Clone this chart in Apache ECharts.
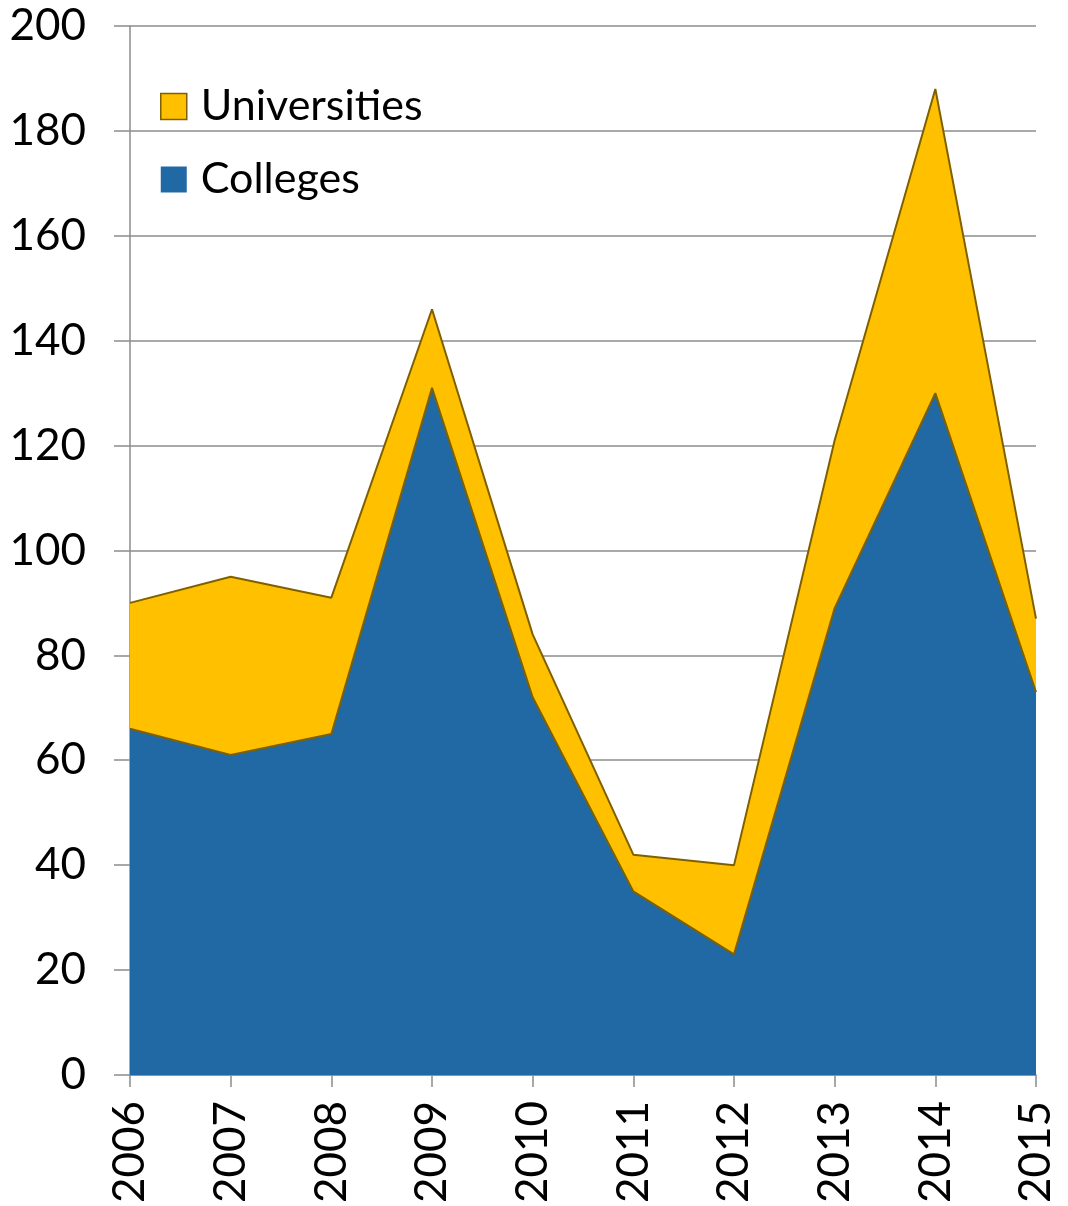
<!DOCTYPE html>
<html>
<head>
<meta charset="utf-8">
<script src="https://cdn.jsdelivr.net/npm/echarts@6/dist/echarts.min.js"></script>
<style>
  html, body { margin: 0; padding: 0; background: #fff; }
  #chart { width: 1068px; height: 1206px; }
</style>
</head>
<body>
<div id="chart"></div>
<script>
// 数据
const years = ['2006', '2007', '2008', '2009', '2010', '2011', '2012', '2013', '2014', '2015'];
const colleges = [66, 61, 65, 131, 72, 35, 23, 89, 130, 73];
const universities = [24, 34, 26, 15, 12, 7, 17, 32, 58, 14];

const FONT = 'Lato, "Open Sans", sans-serif';
const GRID_GRAY = '#8c8c8c';
const OUTLINE = '#7f6000';

const chart = echarts.init(document.getElementById('chart'));

chart.setOption({
    animation: false,
    textStyle: { fontFamily: FONT },
    grid: { left: 130, right: 32, top: 26, bottom: 130 },
    legend: {
        data: [
            { name: 'Universities', itemStyle: { borderColor: OUTLINE, borderWidth: 1.5 } },
            { name: 'Colleges' }
        ],
        orient: 'vertical',
        left: 155, top: 80,
        icon: 'rect',
        itemWidth: 26, itemHeight: 26,
        itemGap: 30,
        textStyle: { fontSize: 43, color: '#000', lineHeight: 40, fontFamily: FONT, padding: [0, 0, 0, 9] }
    },
    xAxis: {
        type: 'category',
        data: years,
        boundaryGap: false,
        axisLine: { lineStyle: { color: GRID_GRAY, width: 1.5 } },
        axisTick: { alignWithLabel: true, length: 12, lineStyle: { color: GRID_GRAY, width: 1.5 } },
        axisLabel: { rotate: 90, fontSize: 44, color: '#000', margin: 26, fontFamily: FONT },
        splitLine: { show: false }
    },
    yAxis: {
        type: 'value',
        min: 0, max: 200, interval: 20,
        axisLine: { show: true, lineStyle: { color: GRID_GRAY, width: 1.5 } },
        axisTick: { show: true, inside: false, length: 16, lineStyle: { color: GRID_GRAY, width: 1.5 } },
        axisLabel: { fontSize: 44, color: '#000', margin: 44, fontFamily: FONT },
        splitLine: { lineStyle: { color: GRID_GRAY, width: 1.5 } }
    },
    series: [
        {
            name: 'Colleges',
            type: 'line',
            stack: 'total',
            data: colleges,
            symbol: 'none',
            z: 3,
            itemStyle: { color: '#2069a4' },
            lineStyle: { color: OUTLINE, width: 2 },
            areaStyle: { color: '#2069a4', opacity: 1 }
        },
        {
            name: 'Universities',
            type: 'line',
            stack: 'total',
            data: universities,
            symbol: 'none',
            z: 2,
            itemStyle: { color: '#ffc000' },
            lineStyle: { color: OUTLINE, width: 2 },
            areaStyle: { color: '#ffc000', opacity: 1 }
        }
    ]
});
</script>
</body>
</html>
